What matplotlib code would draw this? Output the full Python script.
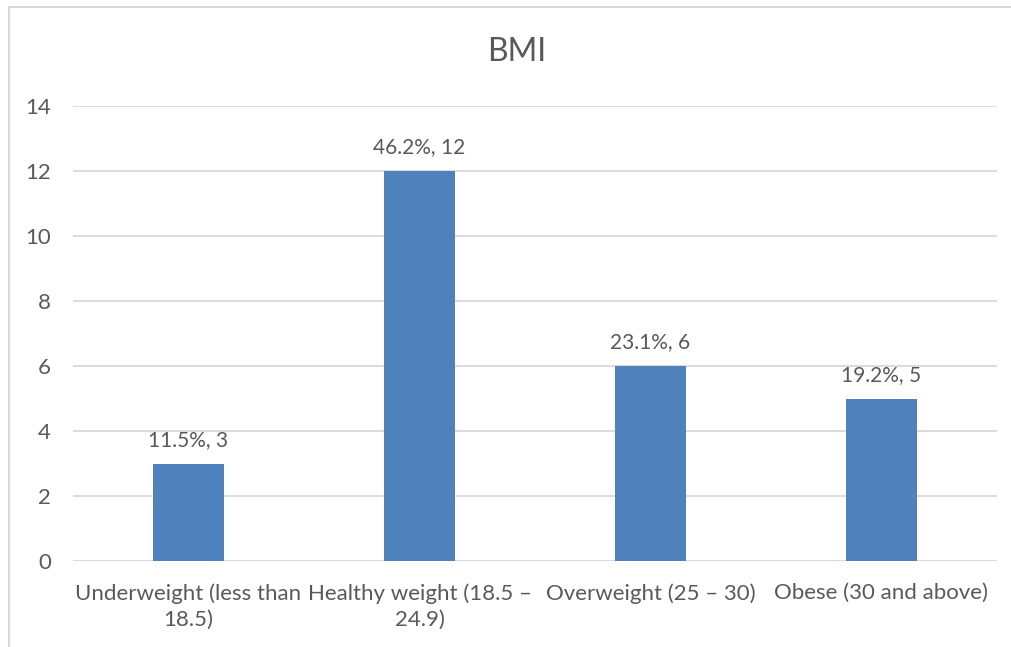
import matplotlib
matplotlib.use('Agg')
import matplotlib.pyplot as plt
from matplotlib.lines import Line2D

categories = ['Underweight (less than\n18.5)', 'Healthy weight (18.5 \u2013\n24.9)',
              'Overweight (25 \u2013 30)', 'Obese (30 and above)']
counts = [3, 12, 6, 5]
percents = ['11.5%', '46.2%', '23.1%', '19.2%']

plt.rcParams['font.family'] = ['Lato', 'DejaVu Sans']
text_col = '#595959'
grid_col = '#D9D9D9'

fig = plt.figure(figsize=(10.11, 6.47), dpi=100)
ax = fig.add_axes([73/1011, 86/647, 924/1011, 455/647])

x = range(len(categories))
bars = ax.bar(x, counts, width=0.31, color='#4F81BD', zorder=3)
for b, c, p in zip(bars, counts, percents):
    ax.annotate('%s, %d' % (p, c), (b.get_x() + b.get_width()/2, c),
                xytext=(0, 10), textcoords='offset points', ha='center', va='bottom',
                fontsize=15, color=text_col)

ax.set_xlim(-0.5, len(categories) - 0.5)
ax.set_ylim(0, 14)
ax.set_yticks(range(0, 15, 2))
ax.set_xticks(list(x))
ax.set_xticklabels(categories, fontsize=16, color=text_col, linespacing=1.4)
ax.tick_params(axis='y', labelsize=16, labelcolor=text_col, length=0, pad=16)
ax.tick_params(axis='x', length=0, pad=16)
ax.yaxis.grid(True, color=grid_col, linewidth=1.3, zorder=0)
for s in ax.spines.values():
    s.set_visible(False)
ax.axhline(0, color=grid_col, linewidth=1.3, zorder=1)

fig.text(517/1011, 1 - 52/647, 'BMI', ha='center', va='center', fontsize=23, color=text_col)

# chart area border (top and left edges visible)
fig.add_artist(Line2D([9/1011, 9/1011], [0, 1 - 7/647], transform=fig.transFigure, color=grid_col, linewidth=1.5))
fig.add_artist(Line2D([9/1011, 1], [1 - 7/647, 1 - 7/647], transform=fig.transFigure, color=grid_col, linewidth=1.5))

fig.savefig('out.png', dpi=100)
